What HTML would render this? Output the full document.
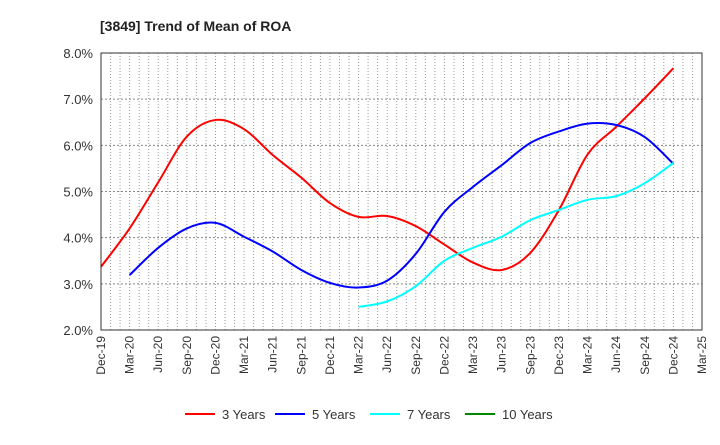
<!DOCTYPE html>
<html><head><meta charset="utf-8"><style>body{margin:0;background:#fff}svg{font-family:"Liberation Sans",sans-serif}</style></head>
<body>
<svg id="c" width="720" height="440">
<text x="100" y="31" font-size="14" font-weight="bold" fill="#222">[3849]  Trend of Mean of ROA</text>
<g id="grid"></g><g id="series"></g><g id="axes"></g>
<g>
<g><line x1="185" y1="414" x2="215" y2="414" stroke="#f00" stroke-width="2"/><text x="222" y="419" font-size="13" fill="#333">3 Years</text></g>
<g><line x1="275" y1="414" x2="305" y2="414" stroke="#00f" stroke-width="2"/><text x="312" y="419" font-size="13" fill="#333">5 Years</text></g>
<g><line x1="370" y1="414" x2="400" y2="414" stroke="#0ff" stroke-width="2"/><text x="407" y="419" font-size="13" fill="#333">7 Years</text></g>
<g><line x1="465" y1="414" x2="495" y2="414" stroke="#080" stroke-width="2"/><text x="502" y="419" font-size="13" fill="#333">10 Years</text></g>
</g>
</svg>
<script>
const xLabels=["Dec-19","Mar-20","Jun-20","Sep-20","Dec-20","Mar-21","Jun-21","Sep-21","Dec-21","Mar-22","Jun-22","Sep-22","Dec-22","Mar-23","Jun-23","Sep-23","Dec-23","Mar-24","Jun-24","Sep-24","Dec-24","Mar-25"];
const yTicks=[2,3,4,5,6,7,8];
const y3=[3.37,4.2,5.2,6.19,6.55,6.35,5.79,5.3,4.75,4.45,4.47,4.25,3.85,3.46,3.3,3.67,4.6,5.8,6.4,7.02,7.67];
const y5=[null,3.19,3.78,4.2,4.32,4.02,3.7,3.3,3.02,2.92,3.07,3.65,4.56,5.1,5.57,6.05,6.3,6.47,6.44,6.18,5.6];
const y7=[null,null,null,null,null,null,null,null,null,2.5,2.62,2.95,3.5,3.78,4.02,4.38,4.6,4.82,4.9,5.18,5.62];
const y10=[];
const L=101,R=702,T=53,B=330,NM=63;
const X=m=>L+(R-L)*m/NM, Y=v=>B-(v-2)/6*(B-T);
const ns="http://www.w3.org/2000/svg";
function mk(t,a,p){const e=document.createElementNS(ns,t);for(const k in a)e.setAttribute(k,a[k]);p.appendChild(e);return e;}
const g=document.getElementById('grid'),ax=document.getElementById('axes'),sg=document.getElementById('series');
for(let m=1;m<NM;m++){const l=mk('line',{x1:X(m),x2:X(m),y1:T,y2:B,stroke:'#999','stroke-dasharray':'1,2','stroke-width':1},g);

}
yTicks.forEach(v=>{if(v>2&&v<8){const l=mk('line',{x1:L,x2:R,y1:Y(v),y2:Y(v),stroke:'#888','stroke-dasharray':'2,2'},g);

}
const t=mk('text',{x:L-8,y:Y(v)+5,'text-anchor':'end','font-size':13,fill:'#333'},ax);t.textContent=v.toFixed(1)+'%';

});
const fr=mk('rect',{x:L,y:T,width:R-L,height:B-T,fill:'none',stroke:'#333'},ax);


xLabels.forEach((s,i)=>{const x=X(i*3);const t=mk('text',{x:0,y:0,transform:`translate(${x+4},${B+6}) rotate(-90)`,'text-anchor':'end','font-size':12,fill:'#333'},ax);t.textContent=s;

});
function path(vals,col,name){const pts=[];vals.forEach((v,i)=>{if(v!=null)pts.push([X(i*3),Y(v)]);});if(pts.length<2)return;
let d=`M${pts[0][0]},${pts[0][1]}`;
for(let i=0;i<pts.length-1;i++){const p0=pts[i-1]||pts[i],p1=pts[i],p2=pts[i+1],p3=pts[i+2]||p2;
d+=` C${p1[0]+(p2[0]-p0[0])/6},${p1[1]+(p2[1]-p0[1])/6} ${p2[0]-(p3[0]-p1[0])/6},${p2[1]-(p3[1]-p1[1])/6} ${p2[0]},${p2[1]}`;}
const p=mk('path',{d,fill:'none',stroke:col,'stroke-width':2},sg);

}
path(y3,'#f00','line-3-years');path(y5,'#00f','line-5-years');path(y7,'#0ff','line-7-years');path(y10,'#080','line-10-years');
</script>
</body></html>
